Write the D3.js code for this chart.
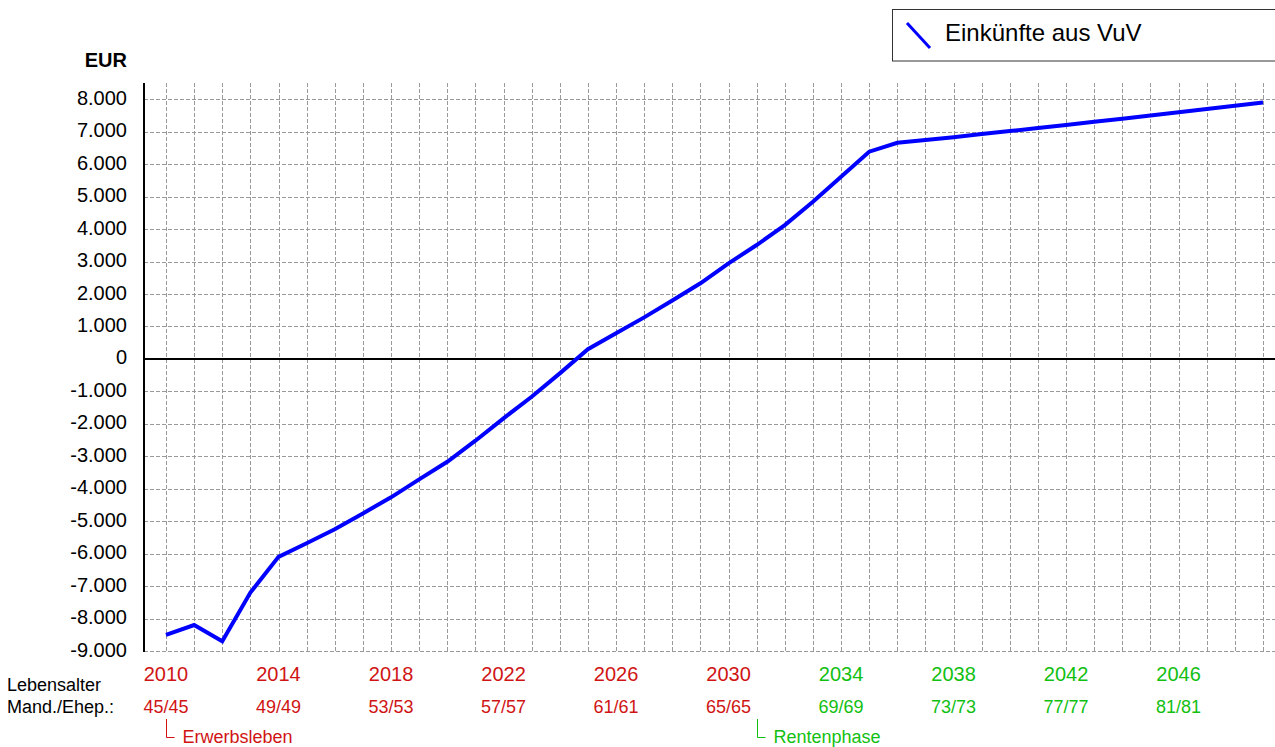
<!DOCTYPE html>
<html>
<head>
<meta charset="utf-8">
<script src="https://cdn.jsdelivr.net/npm/d3@7"></script>
<style>
  html, body { margin: 0; padding: 0; background: #fff; }
  svg { display: block; font-family: Arial, "Liberation Sans", sans-serif; }
</style>
</head>
<body>
<svg id="chart" width="1275" height="747"></svg>
<script>
// ---- data ----
const years = d3.range(2010, 2050);
const vuvValues = [
  -8500, -8200, -8700, -7200, -6100, -5680, -5250, -4760, -4265, -3710,
  -3170, -2520, -1830, -1165, -445, 300, 790, 1280, 1800, 2330,
  2945, 3510, 4125, 4845, 5615, 6385, 6660, 6745, 6830, 6930,
  7020, 7115, 7210, 7305, 7400, 7500, 7600, 7700, 7800, 7900
];
const seriesName = "Einkünfte aus VuV";
const yTicks = d3.range(-9000, 8001, 1000);
const yearLabels = [2010, 2014, 2018, 2022, 2026, 2030, 2034, 2038, 2042, 2046];
const ageLabels = ["45/45", "49/49", "53/53", "57/57", "61/61", "65/65", "69/69", "73/73", "77/77", "81/81"];
const retirementYear = 2031;
const phases = [
  { label: "Erwerbsleben", start: 2010, phase: "work" },
  { label: "Rentenphase", start: 2031, phase: "retire" }
];
const unitLabel = "EUR";
const rowLabels = ["Lebensalter", "Mand./Ehep.:"];

// ---- styles ----
const RED = "#d01414";
const GREEN = "#12c012";
const phaseColor = p => p === "work" ? RED : GREEN;

// ---- layout ----
const svg = d3.select("#chart");
const plotLeft = 144, plotRight = 1275, plotTop = 83, plotBottom = 651;

const x = d3.scaleLinear().domain([2010, 2049]).range([166, 1263]);
const y = d3.scaleLinear().domain([-9000, 8000]).range([651, 99.3]);

// grid: vertical
const gGrid = svg.append("g");
gGrid.selectAll("line.v").data(years).join("line")
  .attr("x1", d => Math.round(x(d)) + 0.5).attr("x2", d => Math.round(x(d)) + 0.5)
  .attr("y1", plotTop).attr("y2", plotBottom)
  .attr("stroke", "#9a9a9a").attr("stroke-width", 1).attr("stroke-dasharray", "4,2");
// grid: horizontal
gGrid.selectAll("line.h").data(yTicks.filter(t => t !== 0)).join("line")
  .attr("x1", plotLeft).attr("x2", plotRight)
  .attr("y1", d => Math.round(y(d)) + 0.5).attr("y2", d => Math.round(y(d)) + 0.5)
  .attr("stroke", "#9a9a9a").attr("stroke-width", 1).attr("stroke-dasharray", "4,2");

// zero line
svg.append("line")
  .attr("x1", plotLeft).attr("x2", plotRight)
  .attr("y1", y(0)).attr("y2", y(0))
  .attr("stroke", "#000").attr("stroke-width", 2);

// y axis line
svg.append("line")
  .attr("x1", plotLeft).attr("x2", plotLeft)
  .attr("y1", plotTop).attr("y2", plotBottom + 1)
  .attr("stroke", "#000").attr("stroke-width", 2);

// y tick labels
const fmt = v => d3.format(",")(v).replace(/,/g, ".").replace("−", "-");
svg.append("g").selectAll("text").data(yTicks).join("text")
  .attr("x", 127).attr("y", d => y(d) + 5.5)
  .attr("text-anchor", "end").attr("font-size", 20).attr("fill", "#000")
  .text(d => fmt(d));

// unit label
svg.append("text").attr("x", 127).attr("y", 67)
  .attr("text-anchor", "end").attr("font-size", 20).attr("font-weight", "bold")
  .text(unitLabel);

// data line
const data = years.map((yr, i) => ({ year: yr, value: vuvValues[i] }));
svg.append("path").datum(data)
  .attr("fill", "none").attr("stroke", "#0000ff").attr("stroke-width", 4)
  .attr("stroke-linejoin", "miter")
  .attr("d", d3.line().x(d => x(d.year)).y(d => y(d.value)));

// x labels: years
svg.append("g").selectAll("text").data(yearLabels).join("text")
  .attr("x", d => x(d)).attr("y", 681)
  .attr("text-anchor", "middle").attr("font-size", 20)
  .attr("fill", d => d < retirementYear ? RED : GREEN)
  .text(d => d);

// x labels: ages
svg.append("g").selectAll("text").data(ageLabels).join("text")
  .attr("x", (d, i) => x(yearLabels[i])).attr("y", 713)
  .attr("text-anchor", "middle").attr("font-size", 18)
  .attr("fill", (d, i) => yearLabels[i] < retirementYear ? RED : GREEN)
  .text(d => d);

// row labels
svg.append("g").selectAll("text").data(rowLabels).join("text")
  .attr("x", 7).attr("y", (d, i) => i === 0 ? 691 : 713)
  .attr("font-size", 18).attr("fill", "#000")
  .text(d => d);

// phase brackets
const gPh = svg.append("g");
phases.forEach(p => {
  const px = Math.round(x(p.start)) + 0.5;
  gPh.append("path")
    .attr("d", `M${px},719 V737.5 H${px + 8}`)
    .attr("fill", "none").attr("stroke", phaseColor(p.phase)).attr("stroke-width", 1);
  gPh.append("text").attr("x", px + 16).attr("y", 743)
    .attr("font-size", 18).attr("fill", phaseColor(p.phase))
    .text(p.label);
});

// legend
const lg = svg.append("g");
lg.append("rect").attr("x", 892.5).attr("y", 9.5).attr("width", 420).attr("height", 51.5)
  .attr("fill", "#fff").attr("stroke", "#333").attr("stroke-width", 1);
lg.append("line").attr("x1", 907).attr("y1", 23).attr("x2", 930).attr("y2", 48)
  .attr("stroke", "#0000ff").attr("stroke-width", 3);
lg.append("text").attr("x", 945).attr("y", 41)
  .attr("font-size", 24).attr("fill", "#000")
  .text(seriesName);
</script>
</body>
</html>
